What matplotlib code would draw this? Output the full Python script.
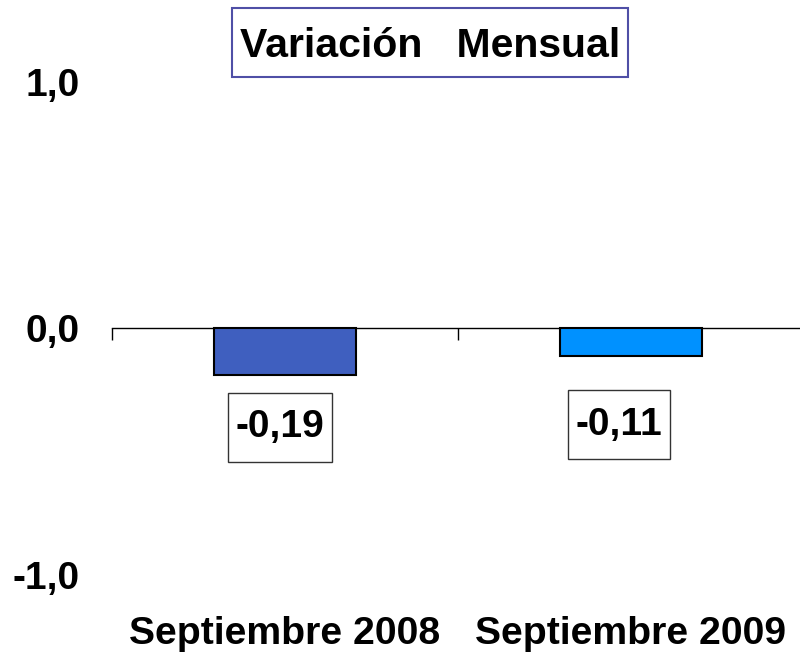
import numpy as np
from matplotlib import pyplot as plt
from matplotlib.patches import Rectangle
from matplotlib.transforms import IdentityTransform

# chart data
categories = ["Septiembre 2008", "Septiembre 2009"]
values = [-0.19, -0.11]
value_labels = ["-0,19", "-0,11"]
bar_colors = ["#3F5FBF", "#0091FF"]
y_ticks = [-1.0, 0.0, 1.0]
y_tick_labels = ["-1,0", "0,0", "1,0"]
title = "Variación   Mensual"

plt.rcParams["font.family"] = ["Liberation Sans", "DejaVu Sans"]
plt.rcParams["font.weight"] = "bold"


def box_around(fig, txt, wpad, hpad, ec, lw) -> None:
	"""
	Draws a rectangle around a text artist, padded in pixels.
	"""
	fig.canvas.draw()
	bb = txt.get_window_extent()
	fig.add_artist(Rectangle((bb.x0 - wpad, bb.y0 - hpad), bb.width + 2 * wpad,
		bb.height + 2 * hpad, transform=IdentityTransform(), fc="none", ec=ec, lw=lw))


def variation_bars() -> None:
	"""
	Bar chart of the monthly variation with boxed value labels.
	"""
	fig = plt.figure(figsize=(8, 6.56), dpi=100)
	ax = fig.add_axes([0.14, 0.1235, 0.865, 0.7515])

	x = np.arange(len(categories))
	ax.bar(x, values, 0.41, color=bar_colors, edgecolor="black", linewidth=1.5, zorder=3)

	ax.set_xlim(-0.5, len(categories) - 0.5)
	ax.set_ylim(-1, 1)

	# axis line at zero with ticks on the category boundaries
	for side in ["left", "right", "top"]:
		ax.spines[side].set_visible(False)
	ax.spines["bottom"].set_position(("data", 0))
	ax.spines["bottom"].set_linewidth(1)
	ax.set_xticks(np.arange(len(categories) + 1) - 0.5, labels=[])
	ax.tick_params(axis="x", direction="out", length=8.6, width=1)

	ax.set_yticks(y_ticks, labels=y_tick_labels)
	ax.tick_params(axis="y", length=0, pad=23, labelsize=28)

	# category names below the plot area
	for i, c in enumerate(categories):
		ax.annotate(c, (i, 0), xycoords=("data", "axes fraction"), xytext=(0, -49.5),
			textcoords="offset points", ha="center", va="baseline", fontsize=28.2,
			fontweight="bold")

	# boxed value labels
	offsets = [-0.015, -0.035]
	label_y = [-0.40, -0.39]
	texts = []
	for i, lab in enumerate(value_labels):
		t = ax.text(i + offsets[i], label_y[i], lab, ha="center", va="center", fontsize=28,
			fontweight="bold")
		texts.append(t)

	fig.text(0.5375, 1 - 57 / 656, title, ha="center", va="baseline", fontsize=29.5,
		fontweight="bold")
	fig.add_artist(Rectangle((232 / 800, 1 - 77 / 656), 396 / 800, 69 / 656,
		transform=fig.transFigure, fc="none", ec="#4F4FA6", lw=1.5))

	for t in texts:
		box_around(fig, t, 7.5, 16.5, "#333333", 1)

	fig.savefig("out.png", dpi=100, facecolor="white")
	plt.close()
	return


variation_bars()
